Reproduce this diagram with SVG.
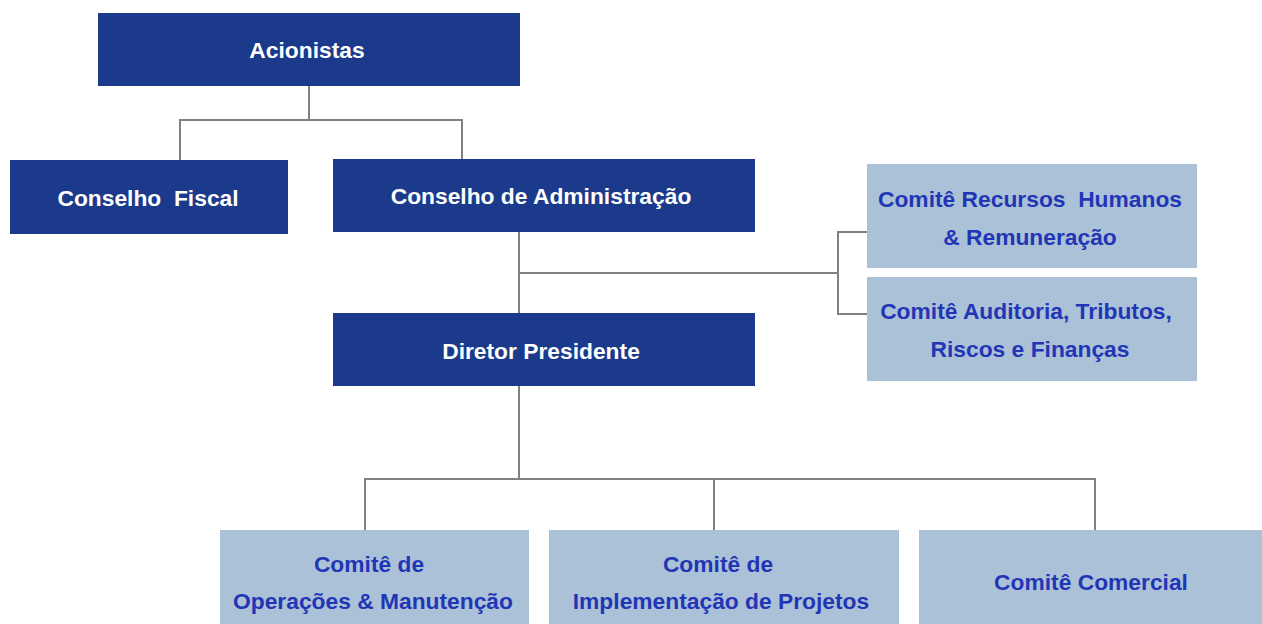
<svg xmlns="http://www.w3.org/2000/svg" width="1262" height="624" viewBox="0 0 1262 624">
<style>
.dk{fill:#1B3A8B}
.lt{fill:#ABC1D8}
.tw{fill:#FFFFFF;font-family:"Liberation Sans",Arial,sans-serif;font-weight:bold;font-size:22.8px;text-anchor:middle;dominant-baseline:central}
.tb{fill:#2236B5;font-family:"Liberation Sans",Arial,sans-serif;font-weight:bold;font-size:22.8px;text-anchor:middle;dominant-baseline:central}
.ln{fill:none;stroke:#808080;stroke-width:2}
</style>
<rect width="1262" height="624" fill="#FFFFFF"/>
<g id="connectors">
<path class="ln" d="M309 86V120M180 160V120H462V159"/>
<path class="ln" d="M519 232V313M519 273H838M867 232H838V314H867"/>
<path class="ln" d="M519 386V479M365 530V479H1095V530M714 479V530"/>
</g>
<g id="acionistas"><rect class="dk" x="98" y="13" width="422" height="73"/><text class="tw" x="307" y="50">Acionistas</text></g>
<g id="conselho-fiscal"><rect class="dk" x="10" y="160" width="278" height="74"/><text class="tw" x="148" y="198" xml:space="preserve">Conselho  Fiscal</text></g>
<g id="conselho-admin"><rect class="dk" x="333" y="159" width="422" height="73"/><text class="tw" x="541" y="196">Conselho de Administração</text></g>
<g id="comite-rh"><rect class="lt" x="867" y="164" width="330" height="104"/><text class="tb" x="1030" y="199" xml:space="preserve">Comitê Recursos  Humanos</text><text class="tb" x="1030" y="237">&amp; Remuneração</text></g>
<g id="comite-auditoria"><rect class="lt" x="867" y="277" width="330" height="104"/><text class="tb" x="1026" y="311">Comitê Auditoria, Tributos,</text><text class="tb" x="1030" y="349">Riscos e Finanças</text></g>
<g id="diretor"><rect class="dk" x="333" y="313" width="422" height="73"/><text class="tw" x="541" y="351">Diretor Presidente</text></g>
<g id="comite-om"><rect class="lt" x="220" y="530" width="309" height="94"/><text class="tb" x="369" y="564">Comitê de</text><text class="tb" x="373" y="601">Operações &amp; Manutenção</text></g>
<g id="comite-ip"><rect class="lt" x="549" y="530" width="350" height="94"/><text class="tb" x="718" y="564">Comitê de</text><text class="tb" x="721" y="601">Implementação de Projetos</text></g>
<g id="comite-comercial"><rect class="lt" x="919" y="530" width="343" height="94"/><text class="tb" x="1091" y="582">Comitê Comercial</text></g>
</svg>
